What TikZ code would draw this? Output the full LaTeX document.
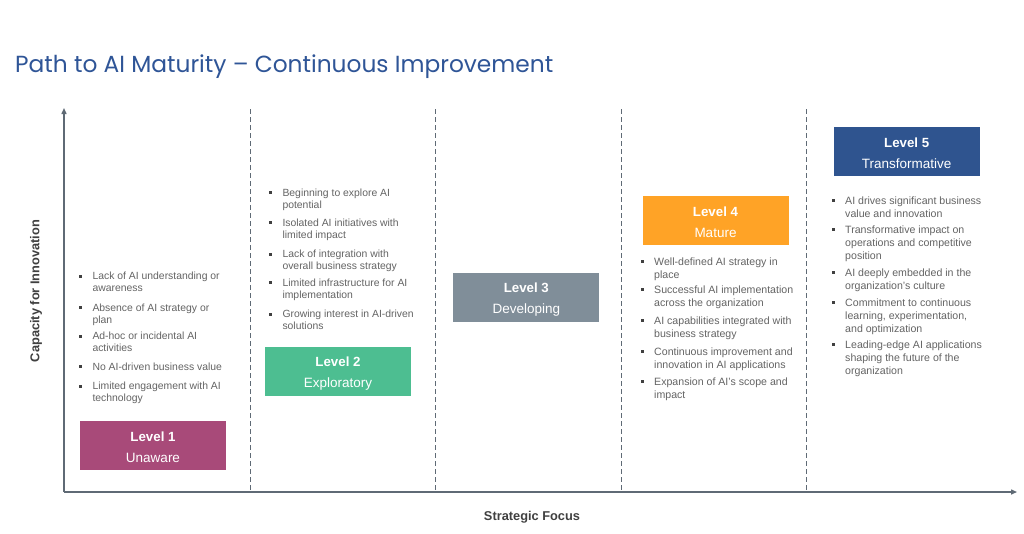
\documentclass[tikz,border=0pt]{standalone}
\usepackage{fontspec}
\setmainfont{Liberation Sans}
\newfontfamily\titlefont{Poppins}
\usetikzlibrary{arrows.meta}
\definecolor{titleblue}{RGB}{47,85,151}
\definecolor{axisgray}{RGB}{95,106,117}
\definecolor{bodygray}{RGB}{100,100,100}
\definecolor{labelgray}{RGB}{64,64,64}
\definecolor{lvlone}{RGB}{168,74,121}
\definecolor{lvltwo}{RGB}{77,190,145}
\definecolor{lvlthree}{RGB}{128,142,153}
\definecolor{lvlfour}{RGB}{255,163,38}
\definecolor{lvlfive}{RGB}{47,84,143}
\tikzset{
  axisline/.style={draw=axisgray, line width=1.4pt, -{Triangle[length=6pt,width=5pt]}},
  divider/.style={draw=axisgray, line width=1pt, dash pattern=on 5pt off 3pt},
  lvlbox/.style={draw=none, minimum width=146pt, minimum height=49pt, inner sep=0pt,
    text=white, align=center, font=\fontsize{13.5}{21}\selectfont},
  bulA/.style={anchor=north west, inner sep=0pt, align=left, text=bodygray,
    font=\fontsize{10.4}{11.6}\selectfont},
  bulB/.style={anchor=north west, inner sep=0pt, align=left, text=bodygray,
    font=\fontsize{10.6}{13}\selectfont},
  axlabel/.style={text=labelgray, font=\bfseries\fontsize{12.8}{15}\selectfont, inner sep=0pt},
}
% name, style, x, y(center of first line), text
\newcommand\bitem[5]{%
  \node[#2] (#1) at (#3,{#4-3.8}) {#5};
  \fill[labelgray] ({#3-13.5},{#4-1.5}) rectangle ({#3-10.5},{#4+1.5});
}
\newcommand\lvltext[2]{\rule{0pt}{13.5pt}{\bfseries\fontsize{13.3}{21}\selectfont #1}\\#2}
\begin{document}
\begin{tikzpicture}[x=1pt,y=-1pt]
\useasboundingbox (0,0) rectangle (1024,533);
\fill[white] (0,0) rectangle (1024,533);

\node[anchor=base west, inner sep=0pt, text=titleblue,
  font=\titlefont\fontsize{23.3}{28}\selectfont] (title) at (15,72)
  {Path to AI Maturity – Continuous Improvement};

% dividers
\foreach \i/\x in {1/250,2/435,3/621,4/806}{
  \coordinate (dt\i) at (\x,109);
  \coordinate (db\i) at (\x,492);
  \draw[divider] (dt\i) -- (db\i);
}

% axes
\coordinate (O) at (64,492);
\coordinate (ytop) at (64,108);
\coordinate (xend) at (1017,492);
\draw[axisline] (O) -- (ytop);
\draw[axisline] (O) -- (xend);

\node[axlabel, rotate=90] (ylab) at (36,291) {Capacity for Innovation};
\node[axlabel] (xlab) at (532,517) {Strategic Focus};

% level boxes
\node[lvlbox, fill=lvlone]   (L1) at (153,445)   {\lvltext{Level 1}{Unaware}};
\node[lvlbox, fill=lvltwo]   (L2) at (338,371.5) {\lvltext{Level 2}{Exploratory}};
\node[lvlbox, fill=lvlthree] (L3) at (526.3,297.7) {\lvltext{Level 3}{Developing}};
\node[lvlbox, fill=lvlfour]  (L4) at (715.5,220) {\lvltext{Level 4}{Mature}};
\node[lvlbox, fill=lvlfive]  (L5) at (906.7,151) {\lvltext{Level 5}{Transformative}};

% level 1 bullets
\bitem{a1}{bulA}{92.3}{276}{Lack of AI understanding or\\awareness}
\bitem{a2}{bulA}{92.3}{307.7}{Absence of AI strategy or\\plan}
\bitem{a3}{bulA}{92.3}{336}{Ad-hoc or incidental AI\\activities}
\bitem{a4}{bulA}{92.3}{366.7}{No AI-driven business value}
\bitem{a5}{bulA}{92.3}{386}{Limited engagement with AI\\technology}

% level 2 bullets
\bitem{b1}{bulA}{282.3}{192.7}{Beginning to explore AI\\potential}
\bitem{b2}{bulA}{282.3}{222.7}{Isolated AI initiatives with\\limited impact}
\bitem{b3}{bulA}{282.3}{254}{Lack of integration with\\overall business strategy}
\bitem{b4}{bulA}{282.3}{282.7}{Limited infrastructure for AI\\implementation}
\bitem{b5}{bulA}{282.3}{314}{Growing interest in AI-driven\\solutions}

% level 4 bullets
\bitem{c1}{bulB}{654}{261.7}{Well-defined AI strategy in\\place}
\bitem{c2}{bulB}{654}{289.3}{Successful AI implementation\\across the organization}
\bitem{c3}{bulB}{654}{320.7}{AI capabilities integrated with\\business strategy}
\bitem{c4}{bulB}{654}{351.3}{Continuous improvement and\\innovation in AI applications}
\bitem{c5}{bulB}{654}{381.7}{Expansion of AI's scope and\\impact}

% level 5 bullets
\bitem{d1}{bulB}{845}{200}{AI drives significant business\\value and innovation}
\bitem{d2}{bulB}{845}{229.3}{Transformative impact on\\operations and competitive\\position}
\bitem{d3}{bulB}{845}{272.3}{AI deeply embedded in the\\organization's culture}
\bitem{d4}{bulB}{845}{302.3}{Commitment to continuous\\learning, experimentation,\\and optimization}
\bitem{d5}{bulB}{845}{344.3}{Leading-edge AI applications\\shaping the future of the\\organization}
\end{tikzpicture}
\end{document}
